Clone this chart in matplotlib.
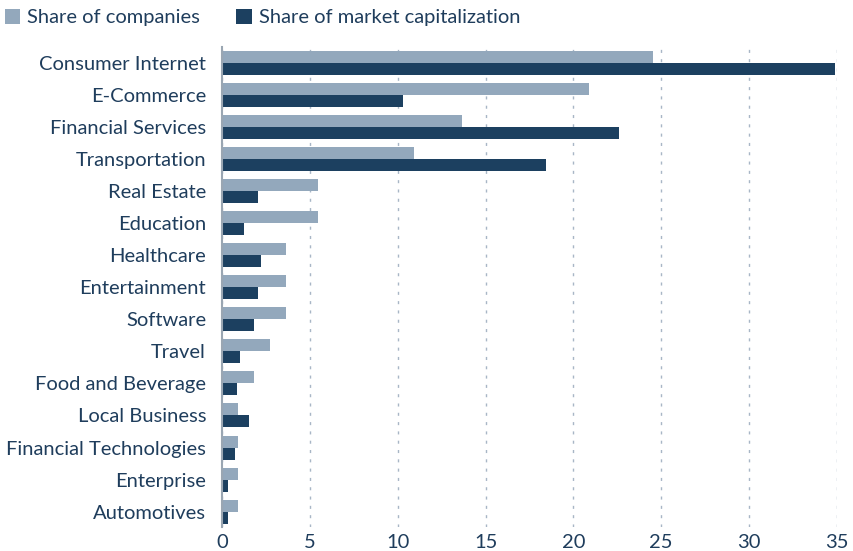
import matplotlib
matplotlib.use('Agg')
import matplotlib.pyplot as plt
import numpy as np

# data (percent)
categories = ['Consumer Internet', 'E-Commerce', 'Financial Services', 'Transportation',
              'Real Estate', 'Education', 'Healthcare', 'Entertainment', 'Software',
              'Travel', 'Food and Beverage', 'Local Business', 'Financial Technologies',
              'Enterprise', 'Automotives']
share_companies = [24.55, 20.91, 13.64, 10.91, 5.45, 5.45, 3.64, 3.64, 3.64,
                   2.73, 1.82, 0.91, 0.91, 0.91, 0.91]
share_market_cap = [34.9, 10.3, 22.6, 18.45, 2.04, 1.23, 2.22, 2.05, 1.82,
                    1.02, 0.85, 1.53, 0.74, 0.34, 0.34]
x_ticks = [0, 5, 10, 15, 20, 25, 30, 35]

LIGHT = '#93a8bc'
DARK = '#1c4060'
TEXT = '#1f3d5c'

plt.rcParams['font.family'] = ['Lato', 'DejaVu Sans']
FS = 14.5

fig = plt.figure(figsize=(8.54, 5.51), dpi=100)
ax = fig.add_axes([0.26, 0.0436, 0.72, 0.8716])

y = np.arange(len(categories))
h = 0.375
ax.barh(y - h / 2, share_companies, height=h, color=LIGHT, label='Share of companies', zorder=2)
ax.barh(y + h / 2, share_market_cap, height=h, color=DARK, label='Share of market capitalization', zorder=2)

ax.set_xlim(0, 35)
ax.set_ylim(14.48, -0.51)
ax.set_xticks(x_ticks)
ax.set_yticks(y)
ax.set_yticklabels(categories)
ax.tick_params(axis='both', length=0, labelsize=FS, colors=TEXT)
ax.tick_params(axis='y', pad=11.5)
ax.tick_params(axis='x', pad=5)

# light dotted vertical grid
ax.grid(axis='x', linestyle=(0, (2.2, 4.5)), color='#a8b6c6', linewidth=1.0, zorder=0)
for s in ['top', 'right', 'bottom']:
    ax.spines[s].set_visible(False)
ax.spines['left'].set_color('#9aa6b2')
ax.spines['left'].set_linewidth(1.5)

leg = fig.legend(loc='upper left', bbox_to_anchor=(5 / 854, 1 - 9 / 551), ncol=2, frameon=False,
                 fontsize=FS, handlelength=0.76, handleheight=0.76, handletextpad=0.35,
                 columnspacing=1.8, borderaxespad=0, borderpad=0)
for t in leg.get_texts():
    t.set_color(TEXT)

fig.savefig('out.png', dpi=100)
